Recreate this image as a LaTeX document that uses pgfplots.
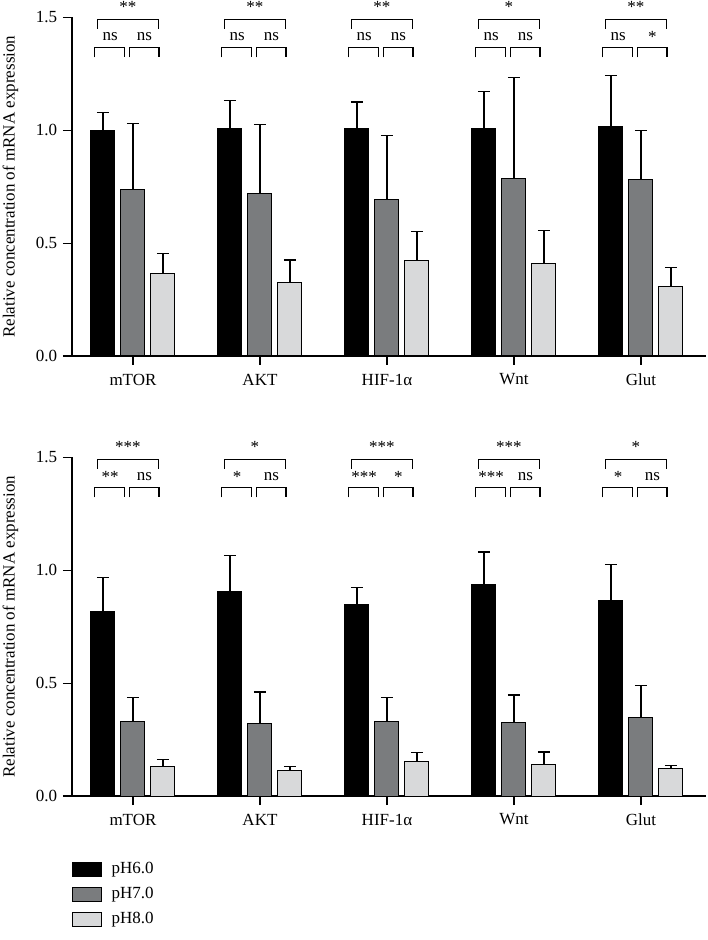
\documentclass[border=0pt]{standalone}
\usepackage{fontspec}
\setmainfont{Liberation Serif}
\usepackage{pgfplots}
\usepackage{pgfplotstable}
\pgfplotsset{compat=1.18}

\definecolor{cA}{HTML}{000000}
\definecolor{cB}{HTML}{7A7C7E}
\definecolor{cC}{HTML}{D8D9DA}

\pgfplotstableread{
x a ea b eb c ec
0 1.000 0.080 0.737 0.294 0.365 0.090
1 1.007 0.124 0.721 0.304 0.325 0.100
2 1.007 0.118 0.694 0.282 0.425 0.126
3 1.010 0.161 0.787 0.446 0.412 0.143
4 1.018 0.224 0.784 0.216 0.307 0.084
}\topdata

\pgfplotstableread{
x a ea b eb c ec
0 0.816 0.153 0.332 0.105 0.131 0.031
1 0.904 0.162 0.322 0.139 0.114 0.016
2 0.849 0.074 0.331 0.105 0.154 0.038
3 0.935 0.146 0.326 0.121 0.140 0.055
4 0.865 0.161 0.348 0.141 0.123 0.011
}\botdata

\newcommand{\sig}[4]{%
  \draw[line width=1.2bp] (axis cs:#1-0.28,1.45) |- (axis cs:#1+0.2,1.492) -- (axis cs:#1+0.2,1.45);
  \draw[line width=1.2bp] (axis cs:#1-0.30,1.323) |- (axis cs:#1-0.065,1.366) -- (axis cs:#1-0.065,1.323);
  \draw[line width=1.2bp] (axis cs:#1-0.025,1.323) |- (axis cs:#1+0.205,1.366) -- (axis cs:#1+0.205,1.323);
  \node[anchor=center] at (axis cs:#1-0.04,1.548) {#2};
  \node[anchor=center] at (axis cs:#1-0.18,1.415) {#3};
  \node[anchor=center] at (axis cs:#1+0.09,1.415) {#4};
}

\pgfplotsset{
  legfill/.initial=black,
  panel/.style={
    scale only axis, width=634bp, height=338.5bp,
    xmin=-0.48, xmax=4.512, ymin=0, ymax=1.5,
    axis x line*=bottom, axis y line*=left,
    xtick={0,1,2,3,4}, xticklabels={mTOR,AKT,HIF-1α,Wnt,Glut},
    ytick={0,0.5,1,1.5},
    yticklabel style={/pgf/number format/.cd, fixed, fixed zerofill, precision=1},
    xticklabel style={yshift=-3bp},
    /pgf/number format/assume math mode=true,
    tick align=outside, major tick length=9bp,
    tick style={line width=1.2bp, black},
    axis line style={line width=1.2bp, black},
    ybar, bar width=24bp,
    clip=false,
    ylabel={Relative concentration of mRNA expression},
    ylabel style={at={(axis description cs:-0.097,0.5)}, anchor=center},
    legend image code/.code={\draw[line width=1bp,draw=black,fill=\pgfkeysvalueof{/pgfplots/legfill}] (0bp,-7bp) rectangle (29bp,7bp); \path[draw=none,fill=none] (29bp,0bp) rectangle (37bp,0.1bp);},
  },
  eb/.style={error bars/.cd, y dir=plus, y explicit,
    error bar style={line width=1.3bp, black},
    error mark options={line width=1.3bp, black, mark size=6bp, rotate=90}},
}

\begin{document}
\fontsize{17bp}{20bp}\selectfont
\begin{tikzpicture}
\useasboundingbox (0,0) rectangle (708bp,940bp);
\begin{axis}[panel, at={(72bp,584bp)}, anchor=south west]
\addplot[fill=cA, draw=black, line width=1bp, bar shift=-30bp, eb] table[x=x, y=a, y error=ea]{\topdata};
\addplot[fill=cB, draw=black, line width=1bp, bar shift=0bp, eb] table[x=x, y=b, y error=eb]{\topdata};
\addplot[fill=cC, draw=black, line width=1bp, bar shift=30bp, eb] table[x=x, y=c, y error=ec]{\topdata};
\sig{0}{**}{ns}{ns}
\sig{1}{**}{ns}{ns}
\sig{2}{**}{ns}{ns}
\sig{3}{*}{ns}{ns}
\sig{4}{**}{ns}{*}
\end{axis}
\begin{axis}[panel, at={(72bp,144bp)}, anchor=south west,
  legend style={draw=none, fill=none, at={(axis description cs:0,-0.19)}, anchor=north west, inner sep=0pt, row sep=7bp, nodes={inner sep=2bp}},
  legend cell align=left]
\addplot[legfill=cA, fill=cA, draw=black, line width=1bp, bar shift=-30bp, eb] table[x=x, y=a, y error=ea]{\botdata};
\addlegendentry{pH6.0}
\addplot[legfill=cB, fill=cB, draw=black, line width=1bp, bar shift=0bp, eb] table[x=x, y=b, y error=eb]{\botdata};
\addlegendentry{pH7.0}
\addplot[legfill=cC, fill=cC, draw=black, line width=1bp, bar shift=30bp, eb] table[x=x, y=c, y error=ec]{\botdata};
\addlegendentry{pH8.0}
\sig{0}{***}{**}{ns}
\sig{1}{*}{*}{ns}
\sig{2}{***}{***}{*}
\sig{3}{***}{***}{ns}
\sig{4}{*}{*}{ns}
\end{axis}
\end{tikzpicture}
\end{document}
